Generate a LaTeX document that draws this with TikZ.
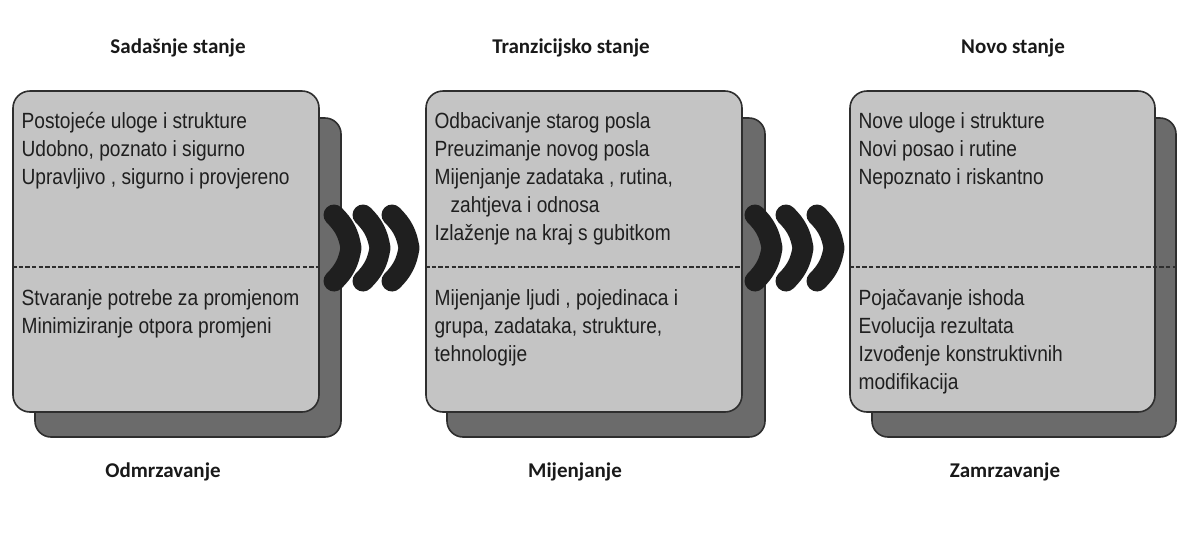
\documentclass[tikz,border=0pt]{standalone}
\usepackage{fontspec}
\setmainfont{Liberation Sans}[FakeStretch=0.87]
\newfontfamily\headfont{Carlito}
\usetikzlibrary{positioning}
\definecolor{frontgray}{HTML}{C4C4C4}
\definecolor{backgray}{HTML}{6B6B6B}
\definecolor{edgegray}{HTML}{2E2E2E}
\definecolor{chevgray}{HTML}{1F1F1F}
\tikzset{
    x=0.5pt, y=-0.5pt, % one unit is one pixel of the scan, y runs down
    backbox/.style={draw=edgegray, line width=0.8pt, fill=backgray, rounded corners=8pt, minimum height=159.5pt, inner sep=0pt}, % shadow card
    frontbox/.style={draw=edgegray, line width=0.8pt, fill=frontgray, rounded corners=8.5pt, minimum height=160.5pt, inner sep=0pt}, % main card
    divider/.style={edgegray, line width=0.6pt, dash pattern=on 2.2pt off 1.1pt}, % dashed line in a card
    body/.style={inner sep=0pt, align=left, text=black!88, font=\fontsize{11}{14}\selectfont},
    heading/.style={inner sep=0pt, text=black!90, font=\headfont\bfseries\fontsize{10.5}{12}\selectfont},
    chevron/.style={chevgray, line width=10.5pt, line cap=round, line join=round},
}
\begin{document}
\begin{tikzpicture}
\useasboundingbox (0,0) rectangle (1179,538);
% shadow cards
\node[backbox, minimum width=153pt] (b1) at (188,277.5) {};
\node[backbox, minimum width=159pt] (b2) at (606,277.5) {};
\node[backbox, minimum width=152pt] (b3) at (1024,277.5) {};
% chevrons between the cards
\foreach \x in {334,363,392,755,786,817}
    \draw[chevron] (\x,215) to[bend left=18] (\x+17,248) to[bend left=18] (\x,281);
% main cards
\node[frontbox, minimum width=153pt] (f1) at (166,251.5) {};
\node[frontbox, minimum width=158pt] (f2) at (584,251.5) {};
\node[frontbox, minimum width=152.5pt] (f3) at (1002.5,251.5) {};
\coordinate (mid) at (0,267);
\coordinate (cut1) at (f1.west |- mid);
\coordinate (cut2) at (f2.west |- mid);
\coordinate (cut3) at (f3.west |- mid);
\draw[divider] (cut1) -- (f1.east |- mid);
\draw[divider] (cut2) -- (f2.east |- mid);
\draw[divider] (cut3) -- (b3.east |- mid);
% headings
\node[heading] (present) at (178,48) {Sadašnje stanje};
\node[heading] (transition) at (571,48) {Tranzicijsko stanje};
\node[heading] (future) at (1013,48) {Novo stanje};
\node[heading] (unfreeze) at (163,472) {Odmrzavanje};
\node[heading] (change) at (575,472) {Mijenjanje};
\node[heading] (refreeze) at (1005,472) {Zamrzavanje};
% card texts
\node[body, below right=11pt and 4.5pt of f1.north west] (present top) {Postojeće uloge i strukture\\Udobno, poznato i sigurno\\Upravljivo , sigurno i provjereno};
\node[body, below right=11pt and 4.5pt of cut1] (present low) {Stvaranje potrebe za promjenom\\Minimiziranje otpora promjeni};
\node[body, below right=11pt and 4.5pt of f2.north west] (transition top) {Odbacivanje starog posla\\Preuzimanje novog posla\\Mijenjanje zadataka , rutina,\\\hspace*{8pt}zahtjeva i odnosa\\Izlaženje na kraj s gubitkom};
\node[body, below right=11pt and 4.5pt of cut2] (transition low) {Mijenjanje ljudi , pojedinaca i\\grupa, zadataka, strukture,\\tehnologije};
\node[body, below right=11pt and 4.5pt of f3.north west] (future top) {Nove uloge i strukture\\Novi posao i rutine\\Nepoznato i riskantno};
\node[body, below right=11pt and 4.5pt of cut3] (future low) {Pojačavanje ishoda\\Evolucija rezultata\\Izvođenje konstruktivnih\\modifikacija};
\end{tikzpicture}
\end{document}
